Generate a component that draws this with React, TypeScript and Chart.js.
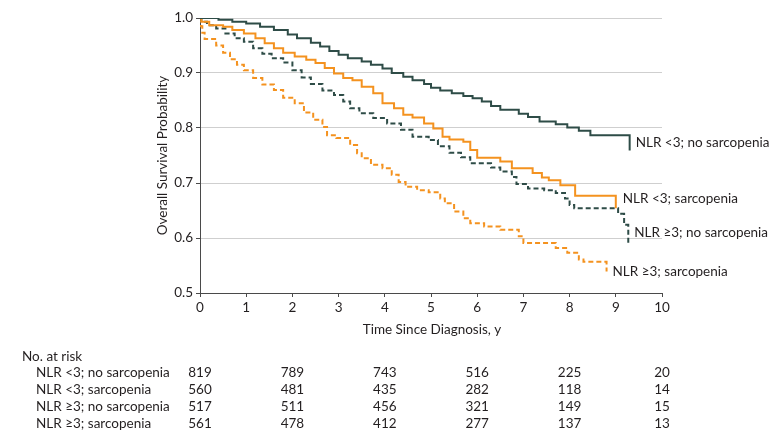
import React, { useEffect, useRef } from "react";
import { Chart, registerables } from "chart.js";

Chart.register(...registerables);

const FONT = "Lato, 'Liberation Sans', sans-serif";
const FONT_SIZE = 13.5;
const TEXT = "#231f20";
const GREEN = "#2e4c47";
const ORANGE = "#f4921f";
const AXIS = "#4a4a4a";
const GRID = "#cfcfcf";

const seriesLabels = [
  "NLR <3; no sarcopenia",
  "NLR <3; sarcopenia",
  "NLR ≥3; no sarcopenia",
  "NLR ≥3; sarcopenia",
];

// NLR <3; no sarcopenia (solid dark green)
const lowNoSarcT = [0, 0.4, 0.7, 1.0, 1.3, 1.6, 1.9, 2.1, 2.4, 2.6, 2.8, 3.0, 3.2, 3.5, 3.7, 3.95, 4.15, 4.4, 4.6, 4.85, 5.0, 5.2, 5.45, 5.7, 5.9, 6.1, 6.3, 6.5, 6.9, 7.1, 7.35, 7.7, 7.95, 8.2, 8.45, 9.3, 9.3];
const lowNoSarcS = [1.0, 0.997, 0.993, 0.99, 0.984, 0.978, 0.97, 0.963, 0.955, 0.948, 0.94, 0.933, 0.927, 0.921, 0.915, 0.908, 0.9, 0.893, 0.887, 0.88, 0.873, 0.868, 0.863, 0.858, 0.854, 0.848, 0.84, 0.833, 0.826, 0.82, 0.812, 0.807, 0.801, 0.795, 0.787, 0.787, 0.759];

// NLR <3; sarcopenia (solid orange)
const lowSarcT = [0, 0.03, 0.2, 0.5, 0.7, 0.95, 1.2, 1.4, 1.6, 1.8, 2.05, 2.3, 2.5, 2.7, 2.9, 3.1, 3.3, 3.5, 3.75, 3.95, 4.2, 4.4, 4.6, 4.85, 5.05, 5.25, 5.4, 5.7, 5.85, 6.0, 6.5, 6.75, 7.2, 7.4, 7.55, 7.8, 8.12, 9.0, 9.0];
const lowSarcS = [1.0, 0.993, 0.987, 0.984, 0.978, 0.972, 0.963, 0.954, 0.945, 0.937, 0.93, 0.924, 0.918, 0.909, 0.899, 0.891, 0.887, 0.875, 0.863, 0.845, 0.836, 0.824, 0.819, 0.808, 0.799, 0.784, 0.779, 0.775, 0.76, 0.746, 0.739, 0.727, 0.718, 0.71, 0.705, 0.696, 0.677, 0.677, 0.654];

// NLR ≥3; no sarcopenia (dashed dark green)
const highNoSarcT = [0, 0.03, 0.15, 0.35, 0.55, 0.75, 0.95, 1.15, 1.35, 1.55, 1.8, 2.0, 2.2, 2.4, 2.65, 2.9, 3.1, 3.25, 3.45, 3.75, 4.05, 4.35, 4.6, 4.95, 5.15, 5.4, 5.65, 5.85, 6.3, 6.5, 6.75, 6.85, 7.1, 7.45, 7.7, 7.9, 8.0, 8.1, 9.05, 9.18, 9.27, 9.27];
const highNoSarcS = [1.0, 0.993, 0.987, 0.981, 0.972, 0.963, 0.957, 0.945, 0.935, 0.927, 0.919, 0.905, 0.892, 0.88, 0.868, 0.86, 0.848, 0.836, 0.827, 0.818, 0.808, 0.797, 0.784, 0.778, 0.767, 0.755, 0.747, 0.736, 0.728, 0.721, 0.711, 0.698, 0.69, 0.687, 0.682, 0.672, 0.66, 0.654, 0.644, 0.624, 0.624, 0.59];

// NLR ≥3; sarcopenia (dashed orange)
const highSarcT = [0, 0.02, 0.05, 0.1, 0.35, 0.5, 0.65, 0.8, 0.95, 1.15, 1.35, 1.6, 1.8, 2.05, 2.25, 2.45, 2.65, 2.75, 2.95, 3.25, 3.4, 3.5, 3.7, 3.95, 4.15, 4.3, 4.45, 4.7, 4.95, 5.2, 5.3, 5.5, 5.7, 5.85, 6.15, 6.5, 6.9, 7.0, 7.7, 7.95, 8.2, 8.3, 8.8, 8.8];
const highSarcS = [1.0, 0.985, 0.973, 0.962, 0.95, 0.937, 0.925, 0.915, 0.905, 0.891, 0.879, 0.869, 0.855, 0.845, 0.828, 0.815, 0.802, 0.787, 0.782, 0.769, 0.754, 0.745, 0.733, 0.727, 0.715, 0.702, 0.693, 0.687, 0.683, 0.672, 0.663, 0.648, 0.636, 0.627, 0.621, 0.615, 0.603, 0.591, 0.582, 0.573, 0.561, 0.557, 0.557, 0.539];

// Number at risk table
const riskTimes = [0, 2, 4, 6, 8, 10];
const riskLowNoSarc = [819, 789, 743, 516, 225, 20];
const riskLowSarc = [560, 481, 435, 282, 118, 14];
const riskHighNoSarc = [517, 511, 456, 321, 149, 15];
const riskHighSarc = [561, 478, 412, 277, 137, 13];

const xTitle = "Time Since Diagnosis, y";
const yTitle = "Overall Survival Probability";
const riskTitle = "No. at risk";

const toPoints = (t: number[], s: number[]) => t.map((x, i) => ({ x, y: s[i] }));

// label placement (pixel offsets from the last point of each curve)
const labelDx = [6, 7, 6, 6];
const labelDy = [-8, -10, -11, 0];

export default function App() {
  const ref = useRef<HTMLCanvasElement>(null);

  useEffect(() => {
    const canvas = ref.current;
    if (!canvas) return;
    const font = { family: FONT, size: FONT_SIZE };

    const overlay = {
      id: "overlay",
      afterDraw(chart: any) {
        const ctx = chart.ctx;
        const xs = chart.scales.x;
        const ys = chart.scales.y;
        const area = chart.chartArea;
        ctx.save();
        ctx.fillStyle = TEXT;
        ctx.font = `${FONT_SIZE}px ${FONT}`;
        ctx.textBaseline = "middle";

        ctx.textAlign = "center";
        ctx.fillText(xTitle, (area.left + area.right) / 2 + 1, 330);

        ctx.save();
        ctx.translate(163, (area.top + area.bottom) / 2);
        ctx.rotate(-Math.PI / 2);
        ctx.fillText(yTitle, 0, 0);
        ctx.restore();

        ctx.textAlign = "left";
        chart.data.datasets.forEach((ds: any, i: number) => {
          const last = ds.data[ds.data.length - 1];
          const px = xs.getPixelForValue(last.x);
          const py = ys.getPixelForValue(last.y);
          ctx.fillText(seriesLabels[i], px + labelDx[i], py + labelDy[i]);
        });

        // risk table
        ctx.textAlign = "left";
        ctx.fillText(riskTitle, 22, 357);
        const rows = [riskLowNoSarc, riskLowSarc, riskHighNoSarc, riskHighSarc];
        rows.forEach((row, r) => {
          const y = 373 + r * 17;
          ctx.textAlign = "left";
          ctx.fillText(seriesLabels[r], 36, y);
          ctx.textAlign = "center";
          row.forEach((v, c) => {
            ctx.fillText(String(v), xs.getPixelForValue(riskTimes[c]), y);
          });
        });
        ctx.restore();
      },
    };

    const chart = new Chart(canvas, {
      type: "line",
      data: {
        datasets: [
          {
            label: seriesLabels[0],
            data: toPoints(lowNoSarcT, lowNoSarcS),
            borderColor: GREEN,
            borderWidth: 2,
            stepped: true,
            pointRadius: 0,
            fill: false,
          },
          {
            label: seriesLabels[1],
            data: toPoints(lowSarcT, lowSarcS),
            borderColor: ORANGE,
            borderWidth: 2,
            stepped: true,
            pointRadius: 0,
            fill: false,
          },
          {
            label: seriesLabels[2],
            data: toPoints(highNoSarcT, highNoSarcS),
            borderColor: GREEN,
            borderWidth: 2,
            borderDash: [5, 3],
            stepped: true,
            pointRadius: 0,
            fill: false,
          },
          {
            label: seriesLabels[3],
            data: toPoints(highSarcT, highSarcS),
            borderColor: ORANGE,
            borderWidth: 2,
            borderDash: [5, 3],
            stepped: true,
            pointRadius: 0,
            fill: false,
          },
        ],
      },
      options: {
        responsive: false,
        animation: false,
        events: [],
        layout: { padding: { left: 0, right: 121, top: 18, bottom: 0 } },
        plugins: {
          legend: { display: false },
          tooltip: { enabled: false },
          title: { display: false },
        },
        scales: {
          x: {
            type: "linear",
            min: 0,
            max: 10,
            afterFit: (s: any) => {
              s.height = 150;
            },
            ticks: { stepSize: 1, color: TEXT, font, padding: 3, maxRotation: 0 },
            grid: {
              drawOnChartArea: false,
              drawTicks: true,
              tickLength: 4,
              tickColor: AXIS,
            },
            border: { display: true, color: AXIS, width: 1 },
          },
          y: {
            type: "linear",
            min: 0.5,
            max: 1.0,
            afterFit: (s: any) => {
              s.width = 200;
            },
            ticks: {
              stepSize: 0.1,
              color: TEXT,
              font,
              padding: 3,
              callback: (v: any) => Number(v).toFixed(1),
            },
            grid: {
              color: GRID,
              lineWidth: 1,
              drawTicks: true,
              tickLength: 4,
              tickColor: AXIS,
            },
            border: { display: true, color: AXIS, width: 1 },
          },
        },
      },
      plugins: [overlay],
    });

    return () => chart.destroy();
  }, []);

  return (
    <div style={{ position: "fixed", left: 0, top: 0, width: 783, height: 443, background: "#fff" }}>
      <canvas ref={ref} width={783} height={443} style={{ display: "block", width: 783, height: 443 }} />
    </div>
  );
}
